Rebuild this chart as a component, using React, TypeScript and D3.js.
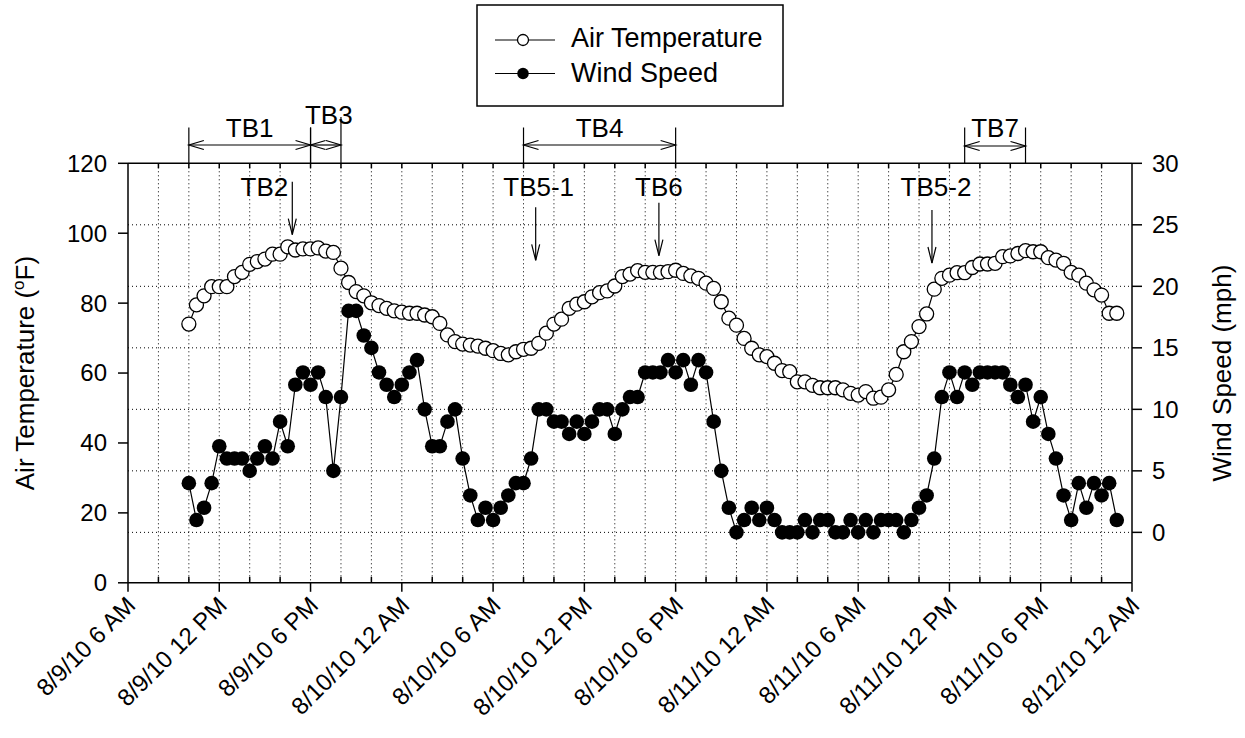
import React, { useEffect } from "react";
import * as d3 from "d3";

// ---------- DATA ----------
const tickLabels = [
  "8/9/10 6 AM", "8/9/10 12 PM", "8/9/10 6 PM", "8/10/10 12 AM",
  "8/10/10 6 AM", "8/10/10 12 PM", "8/10/10 6 PM", "8/11/10 12 AM",
  "8/11/10 6 AM", "8/11/10 12 PM", "8/11/10 6 PM", "8/12/10 12 AM",
];
const axisStart = "2010-08-09T06:00";
const axisEnd = "2010-08-12T00:00";
const seriesStart = "2010-08-09T10:00";
const seriesStepMinutes = 30;

const airTemperature = [
  74.0, 79.5, 82.1, 84.7, 84.7, 84.7, 87.6, 88.8, 91.1, 91.9,
  92.6, 94.0, 94.0, 96.1, 95.2, 95.5, 95.5, 95.8, 94.9, 94.5,
  90.0, 85.9, 83.3, 82.1, 80.1, 79.3, 78.5, 77.8, 77.4, 77.1,
  77.1, 76.6, 76.1, 74.2, 70.9, 69.0, 68.3, 68.0, 67.7, 67.1,
  66.4, 65.6, 65.2, 66.1, 66.8, 67.1, 68.5, 71.4, 74.0, 75.4,
  78.5, 79.7, 80.4, 81.8, 83.0, 83.5, 84.9, 87.6, 88.3, 89.3,
  88.8, 88.8, 88.8, 89.0, 89.4, 88.5, 87.8, 87.1, 85.7, 84.2,
  80.4, 75.7, 73.7, 69.9, 67.1, 65.2, 64.7, 62.8, 60.7, 60.4,
  57.5, 57.5, 56.5, 55.8, 55.8, 55.8, 55.2, 54.2, 53.7, 54.7,
  52.8, 53.1, 55.2, 59.6, 66.1, 69.0, 73.3, 76.9, 84.0, 87.1,
  88.0, 88.7, 88.7, 90.2, 91.2, 91.2, 91.4, 93.3, 93.5, 94.2,
  95.0, 94.7, 94.7, 93.0, 92.3, 91.4, 88.8, 88.0, 85.7, 83.8,
  82.3, 77.1, 77.1,
];
const windSpeed = [
  4, 1, 2, 4, 7, 6, 6, 6, 5, 6,
  7, 6, 9, 7, 12, 13, 12, 13, 11, 5,
  11, 18, 18, 16, 15, 13, 12, 11, 12, 13,
  14, 10, 7, 7, 9, 10, 6, 3, 1, 2,
  1, 2, 3, 4, 4, 6, 10, 10, 9, 9,
  8, 9, 8, 9, 10, 10, 8, 10, 11, 11,
  13, 13, 13, 14, 13, 14, 12, 14, 13, 9,
  5, 2, 0, 1, 2, 1, 2, 1, 0, 0,
  0, 1, 0, 1, 1, 0, 0, 1, 0, 1,
  0, 1, 1, 1, 0, 1, 2, 3, 6, 11,
  13, 11, 13, 12, 13, 13, 13, 13, 12, 11,
  12, 9, 11, 8, 6, 3, 1, 4, 2, 4,
  3, 4, 1,
];
const leftTicks = [0, 20, 40, 60, 80, 100, 120];
const rightTicks = [0, 5, 10, 15, 20, 25, 30];

// annotation spans (hours after axis start)
const spanLabels = ["TB1", "TB3", "TB4", "TB7"];
const spanFrom = [4, 12, 26, 55];
const spanTo = [12, 14, 36, 59];
const pointLabels = ["TB2", "TB5-1", "TB6", "TB5-2"];
const pointAt = [10.8, 26.8, 34.9, 52.85];

// ---------- LAYOUT ----------
const W = 1245, H = 738;
const X0 = 128, X1 = 1132, Y0 = 163.3, Y1 = 582.8;
const FONT = "'Liberation Sans', Arial, Helvetica, sans-serif";

export default function App() {
  useEffect(() => {
    document.body.style.margin = "0";
  }, []);

  const t0 = new Date(axisStart);
  const t1 = new Date(axisEnd);
  const s0 = new Date(seriesStart);
  const hourDate = (h: number) => new Date(t0.getTime() + h * 3600e3);

  const x = d3.scaleTime().domain([t0, t1]).range([X0, X1]);
  const yL = d3.scaleLinear().domain([0, 120]).range([Y1, Y0]);
  const yR = d3.scaleLinear().domain([-4.1, 30]).range([Y1, Y0]);

  const times = airTemperature.map((_, i) =>
    d3.timeMinute.offset(s0, i * seriesStepMinutes)
  );

  const tempLine = d3
    .line<number>()
    .x((_, i) => x(times[i]))
    .y((d) => yL(d));
  const windLine = d3
    .line<number>()
    .x((_, i) => x(times[i]))
    .y((d) => yR(d));

  const gridHours = d3.range(2, 66, 2);
  const majorHours = d3.range(0, 67, 6);
  const minorHours = gridHours.filter((h) => h % 6 !== 0);

  const dot = { stroke: "#000", strokeWidth: 1, strokeDasharray: "1,3" };

  const arrowHead = (xe: number, ye: number, dir: number, len = 15, hw = 4.5) =>
    `M${xe + dir * len},${ye - hw}L${xe},${ye}L${xe + dir * len},${ye + hw}`;

  return (
    <svg
      width={W}
      height={H}
      style={{ position: "absolute", left: 0, top: 0, background: "#fff" }}
      fontFamily={FONT}
    >
      <rect width={W} height={H} fill="#fff" />
      {/* grid */}
      {gridHours.map((h) => (
        <line key={"vg" + h} x1={x(hourDate(h))} x2={x(hourDate(h))} y1={Y0} y2={Y1} {...dot} />
      ))}
      {[0, 5, 10, 15, 20, 25].map((v) => (
        <line key={"hg" + v} x1={X0} x2={X1} y1={yR(v)} y2={yR(v)} {...dot} />
      ))}

      {/* series */}
      <path d={tempLine(airTemperature) || ""} fill="none" stroke="#000" strokeWidth={1.2} />
      {airTemperature.map((d, i) => (
        <circle key={"t" + i} cx={x(times[i])} cy={yL(d)} r={7} fill="#fff" stroke="#000" strokeWidth={1.3} />
      ))}
      <path d={windLine(windSpeed) || ""} fill="none" stroke="#000" strokeWidth={1.2} />
      {windSpeed.map((d, i) => (
        <circle key={"w" + i} cx={x(times[i])} cy={yR(d)} r={7.3} fill="#000" />
      ))}

      {/* frame */}
      <g stroke="#000" strokeWidth={1.5} fill="none">
        <line x1={X0} x2={X1} y1={Y0} y2={Y0} />
        <line x1={X0} x2={X1} y1={Y1} y2={Y1} />
        <line x1={X0} x2={X0} y1={Y0} y2={Y1} />
        <line x1={X1} x2={X1} y1={Y0} y2={Y1} />
        {leftTicks.map((v) => (
          <line key={"lt" + v} x1={X0 - 10} x2={X0} y1={yL(v)} y2={yL(v)} />
        ))}
        {rightTicks.map((v) => (
          <line key={"rt" + v} x1={X1} x2={X1 + 10} y1={yR(v)} y2={yR(v)} />
        ))}
        {majorHours.map((h) => (
          <line key={"mt" + h} x1={x(hourDate(h))} x2={x(hourDate(h))} y1={Y1} y2={Y1 + 9} />
        ))}
        {minorHours.map((h) => (
          <line key={"nt" + h} x1={x(hourDate(h))} x2={x(hourDate(h))} y1={Y1 - 6} y2={Y1} />
        ))}
        {gridHours.map((h) => (
          <line key={"tt" + h} x1={x(hourDate(h))} x2={x(hourDate(h))} y1={Y0} y2={Y0 + 5} />
        ))}
      </g>

      {/* tick labels */}
      <g fontSize={24} fill="#000">
        {leftTicks.map((v) => (
          <text key={"ll" + v} x={X0 - 21} y={yL(v)} dy="0.35em" textAnchor="end">{v}</text>
        ))}
        {rightTicks.map((v) => (
          <text key={"rl" + v} x={X1 + 20} y={yR(v)} dy="0.35em" textAnchor="start">{v}</text>
        ))}
        {tickLabels.map((lab, i) => {
          const xx = x(hourDate(majorHours[i]));
          return (
            <text key={"xl" + i} transform={`translate(${xx + 9},${Y1 + 24}) rotate(-45)`} textAnchor="end">
              {lab}
            </text>
          );
        })}
      </g>

      {/* axis titles */}
      <text fontSize={26} transform={`translate(34,${(Y0 + Y1) / 2}) rotate(-90)`} textAnchor="middle">
        <tspan>Air Temperature (</tspan>
        <tspan fontSize={17} dy={-10}>o</tspan>
        <tspan dy={10}>F)</tspan>
      </text>
      <text fontSize={26} transform={`translate(1231,${(Y0 + Y1) / 2}) rotate(-90)`} textAnchor="middle">
        Wind Speed (mph)
      </text>

      {/* legend */}
      <rect x={477} y={5} width={306} height={101} fill="#fff" stroke="#000" strokeWidth={1.5} />
      <line x1={495} x2={555} y1={40} y2={40} stroke="#000" strokeWidth={1.2} />
      <circle cx={523} cy={40} r={5.5} fill="#fff" stroke="#000" strokeWidth={1.3} />
      <text x={571} y={47} fontSize={27}>Air Temperature</text>
      <line x1={495} x2={555} y1={73.5} y2={73.5} stroke="#000" strokeWidth={1.2} />
      <circle cx={523} cy={73.5} r={5.8} fill="#000" />
      <text x={571} y={81.5} fontSize={27}>Wind Speed</text>

      {/* span annotations */}
      <g stroke="#000" strokeWidth={1.2} fill="none">
        {spanLabels.map((lab, i) => {
          const xa = x(hourDate(spanFrom[i]));
          const xb = x(hourDate(spanTo[i]));
          const top = lab === "TB3" ? 117 : 127.5;
          const ay = lab === "TB7" ? 146 : 145;
          return (
            <g key={"sp" + lab}>
              <line x1={xa} x2={xa} y1={lab === "TB3" ? 127.5 : top} y2={Y0} />
              <line x1={xb} x2={xb} y1={top} y2={Y0} />
              <line x1={xa} x2={xb} y1={ay} y2={ay} />
              <path d={arrowHead(xa, ay, 1)} />
              <path d={arrowHead(xb, ay, -1)} />
            </g>
          );
        })}
        {pointLabels.map((lab, i) => {
          const xp = x(hourDate(pointAt[i]));
          const top = lab === "TB2" ? 181.7 : lab === "TB5-1" ? 207.3 : lab === "TB6" ? 202.7 : 210;
          return (
            <g key={"pt" + lab}>
              <line x1={xp} x2={xp} y1={top} y2={top + 53} />
              <path d={`M${xp - 4},${top + 37}L${xp},${top + 53}L${xp + 4},${top + 37}`} />
            </g>
          );
        })}
      </g>
      <g fontSize={26} fill="#000">
        {spanLabels.map((lab, i) => {
          const xa = x(hourDate(spanFrom[i]));
          const xb = x(hourDate(spanTo[i]));
          return (
            <text key={"sl" + lab} x={(xa + xb) / 2 + (lab === "TB3" ? 3 : 0)} y={lab === "TB3" ? 123.5 : 136.5} textAnchor="middle">
              {lab}
            </text>
          );
        })}
        {pointLabels.map((lab, i) => {
          const xp = x(hourDate(pointAt[i]));
          return (
            <text
              key={"pl" + lab}
              x={lab === "TB2" ? xp - 4 : xp + (lab === "TB5-2" ? 4 : lab === "TB5-1" ? 3 : 0)}
              y={lab === "TB2" ? 196 : 195.5}
              textAnchor={lab === "TB2" ? "end" : "middle"}
            >
              {lab}
            </text>
          );
        })}
      </g>
    </svg>
  );
}
